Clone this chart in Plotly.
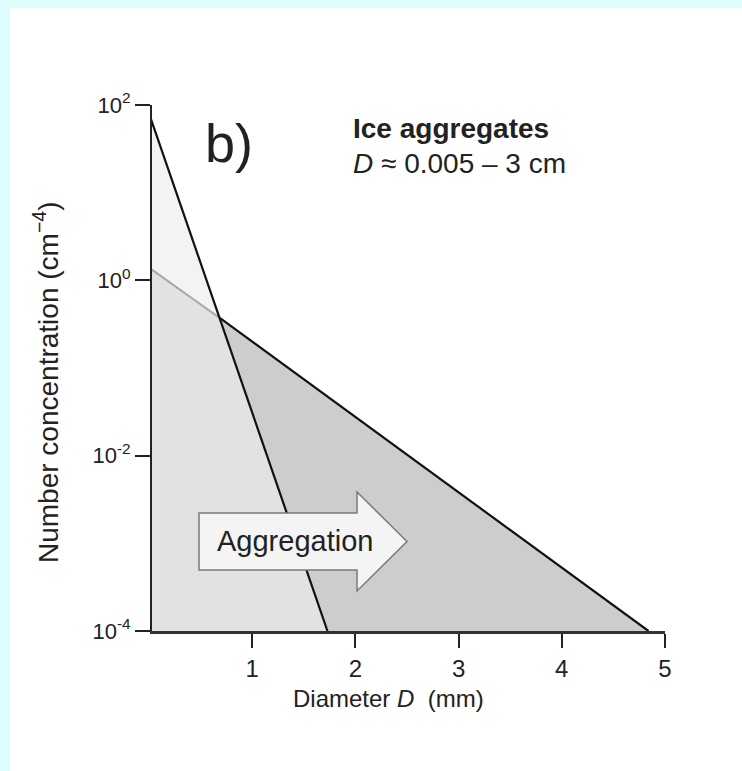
import plotly.graph_objects as go

# ---- data ----
small_D = [0.0, 1.73]            # mm, steep (small-particle) distribution
small_N = [81.0, 1e-4]           # cm^-4
large_D = [0.0, 0.69, 4.84]      # mm, shallow (aggregate) distribution
large_N = [1.4, 0.37, 1e-4]      # cm^-4
x_ticks = [1, 2, 3, 4, 5]
y_ticks = [1e-4, 1e-2, 1, 100]
y_ticktext = ["10<sup>-4</sup>", "10<sup>-2</sup>", "10<sup>0</sup>", "10<sup>2</sup>"]

W, H = 742, 771
L, R, T, B = 152, 77, 105, 140
PW, PH = W - L - R, H - T - B


def px(x):
    return (x - L) / PW


def py(y):
    return (H - B - y) / PH


FONT = "Liberation Sans, Arial, Helvetica, sans-serif"
INK = "#222222"

fig = go.Figure()

# light region under the steep line
fig.add_trace(go.Scatter(
    x=[small_D[0], small_D[1], small_D[0]],
    y=[small_N[0], small_N[1], small_N[1]],
    fill="toself", fillcolor="#f3f3f3", line=dict(width=0),
    mode="lines", hoverinfo="skip", showlegend=False))
# overlap region (under both lines)
fig.add_trace(go.Scatter(
    x=[large_D[0], large_D[1], small_D[1], large_D[0]],
    y=[large_N[0], large_N[1], small_N[1], small_N[1]],
    fill="toself", fillcolor="#e2e2e2", line=dict(width=0),
    mode="lines", hoverinfo="skip", showlegend=False))
# aggregate-only region
fig.add_trace(go.Scatter(
    x=[large_D[1], large_D[2], small_D[1]],
    y=[large_N[1], large_N[2], small_N[1]],
    fill="toself", fillcolor="#cdcdcd", line=dict(width=0),
    mode="lines", hoverinfo="skip", showlegend=False))

# shallow line: gray part then black part
fig.add_trace(go.Scatter(
    x=large_D[:2], y=large_N[:2], mode="lines",
    line=dict(color="#a6a6a6", width=2), showlegend=False))
fig.add_trace(go.Scatter(
    x=large_D[1:], y=large_N[1:], mode="lines",
    line=dict(color="#111111", width=2.2), showlegend=False))
# steep line
fig.add_trace(go.Scatter(
    x=small_D, y=small_N, mode="lines",
    line=dict(color="#111111", width=2.2), showlegend=False))

shapes = [
    # cyan page border (top and left)
    dict(type="rect", xref="paper", yref="paper", layer="below",
         x0=px(0), x1=px(W), y0=py(0), y1=py(8),
         fillcolor="#dcfcfe", line=dict(width=0)),
    dict(type="rect", xref="paper", yref="paper", layer="below",
         x0=px(0), x1=px(10), y0=py(H), y1=py(0),
         fillcolor="#dcfcfe", line=dict(width=0)),
    # block arrow "Aggregation"
    dict(type="path", xref="paper", yref="paper", layer="above",
         path=("M {a},{t} L {b},{t} L {b},{ht} L {c},{m} L {b},{hb} L {b},{bt} L {a},{bt} Z"
               .format(a=px(199), b=px(357), c=px(407),
                       t=py(513), bt=py(570), ht=py(492), hb=py(591), m=py(541.5))),
         fillcolor="#f4f4f4", line=dict(color="#7a7a7a", width=1.5)),
]

annotations = [
    dict(text="b)", x=px(203), y=py(143), xref="paper", yref="paper",
         xanchor="left", yanchor="middle", showarrow=False,
         font=dict(family=FONT, size=54, color=INK)),
    dict(text="<b>Ice aggregates</b>", x=px(351), y=py(128), xref="paper", yref="paper",
         xanchor="left", yanchor="middle", showarrow=False,
         font=dict(family=FONT, size=28, color=INK)),
    dict(text="<i>D</i> ≈ 0.005 – 3 cm", x=px(351), y=py(163), xref="paper", yref="paper",
         xanchor="left", yanchor="middle", showarrow=False,
         font=dict(family=FONT, size=28, color=INK)),
    dict(text="Aggregation", x=px(295), y=py(541), xref="paper", yref="paper",
         xanchor="center", yanchor="middle", showarrow=False,
         font=dict(family=FONT, size=29, color=INK)),
    dict(text="Diameter <i>D</i>  (mm)", x=px(388), y=py(698), xref="paper", yref="paper",
         xanchor="center", yanchor="middle", showarrow=False,
         font=dict(family=FONT, size=24, color=INK)),
    dict(text="Number concentration (cm<sup>−4</sup>)", x=px(46), y=py(382),
         xref="paper", yref="paper", textangle=-90,
         xanchor="center", yanchor="middle", showarrow=False,
         font=dict(family=FONT, size=28, color=INK)),
]

fig.update_layout(
    width=W, height=H,
    margin=dict(l=L, r=R, t=T, b=B),
    paper_bgcolor="white", plot_bgcolor="white",
    font=dict(family=FONT, color=INK),
    shapes=shapes, annotations=annotations,
    showlegend=False,
)
fig.update_xaxes(
    range=[0.03, 5], tickvals=x_ticks, ticks="outside", ticklen=14,
    tickwidth=1.8, tickcolor="#222", showline=True, linecolor="#333",
    linewidth=3, showgrid=False, zeroline=False,
    tickfont=dict(family=FONT, size=24, color=INK))
fig.update_yaxes(
    type="log", range=[-4, 2], tickvals=y_ticks, ticktext=y_ticktext,
    ticks="outside", ticklen=15, tickwidth=1.8, tickcolor="#222",
    showline=True, linecolor="#222", linewidth=2, showgrid=False,
    zeroline=False, tickfont=dict(family=FONT, size=22, color=INK))

fig.write_html("out.html", config={"displayModeBar": False},
               post_script="document.body.style.margin='0px';")
